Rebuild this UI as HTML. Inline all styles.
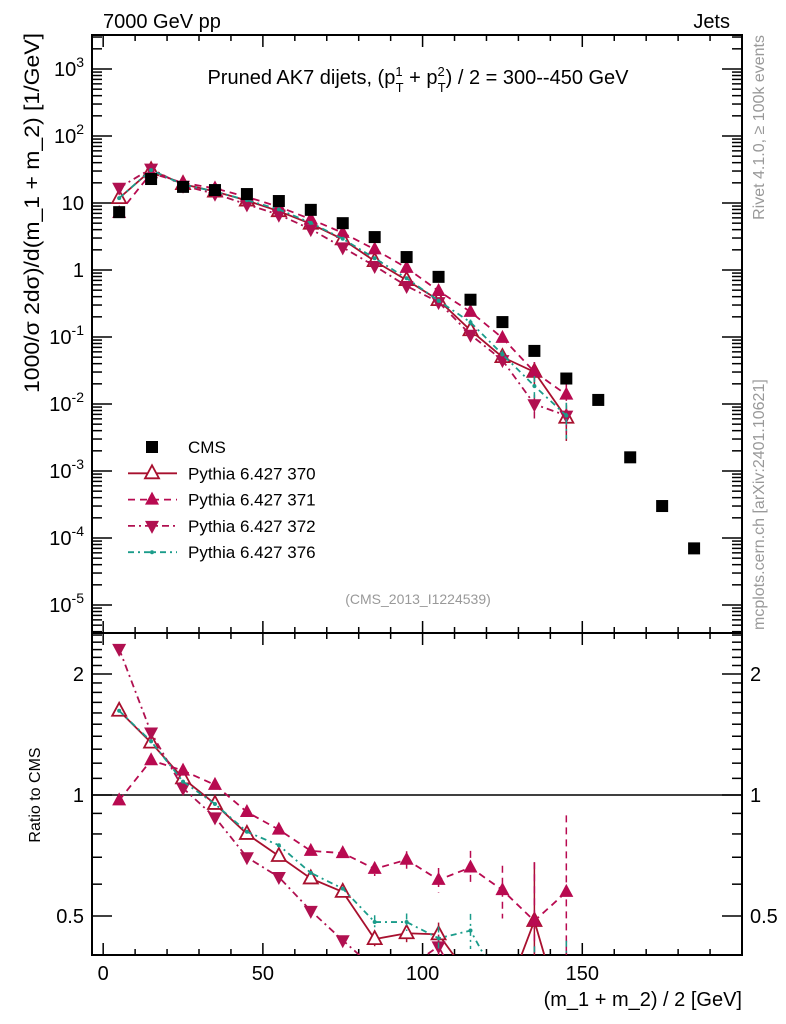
<!DOCTYPE html>
<html><head><meta charset="utf-8"><style>
html,body{margin:0;background:#fff;overflow:hidden;width:786px;height:1024px}
svg{display:block;font-family:"Liberation Sans",sans-serif}
</style></head><body>
<svg id="c" width="786" height="1024" viewBox="0 0 786 1024" xmlns="http://www.w3.org/2000/svg">
<text x="103" y="28" font-size="20">7000 GeV pp</text>
<text x="730" y="28" font-size="20" text-anchor="end">Jets</text>
<text x="418" y="84" font-size="20" text-anchor="middle">Pruned AK7 dijets, (p<tspan font-size="13" dy="-8">1</tspan><tspan font-size="13" dx="-7" dy="16">T</tspan><tspan dy="-8"> + p</tspan><tspan font-size="13" dy="-8">2</tspan><tspan font-size="13" dx="-7" dy="16">T</tspan><tspan dy="-8">) / 2 = 300--450 GeV</tspan></text>
<text x="418" y="604" font-size="14" fill="#999" text-anchor="middle">(CMS_2013_I1224539)</text>
<text transform="translate(764,35) rotate(-90)" font-size="16" fill="#999" text-anchor="end">Rivet 4.1.0, ≥ 100k events</text>
<text transform="translate(764,630) rotate(-90)" font-size="16" fill="#999" text-anchor="start">mcplots.cern.ch [arXiv:2401.10621]</text>
<text transform="translate(39,393) rotate(-90)" font-size="21" textLength="360" lengthAdjust="spacingAndGlyphs">1000/σ  2dσ)/d(m_1 + m_2) [1/GeV]</text>
<text transform="translate(40,795) rotate(-90)" font-size="16" text-anchor="middle">Ratio to CMS</text>
<text x="742" y="1006" font-size="20" text-anchor="end">(m_1 + m_2) / 2 [GeV]</text>
<g id="g"></g>
</svg>
<script>
const xs=[5,15,25,35,45,55,65,75,85,95,105,115,125,135,145,155,165,175,185];
const cms=[7.3,22.8,17.4,15.6,13.6,10.7,7.9,5.0,3.1,1.56,0.79,0.36,0.167,0.062,0.024,0.0115,0.0016,0.0003,0.00007];
const r370=[1.62,1.35,1.10,0.95,0.80,0.705,0.62,0.574,0.438,0.453,0.45,0.35,0.30,0.486,0.26];
const r371=[0.97,1.22,1.15,1.06,0.907,0.82,0.726,0.717,0.655,0.69,0.615,0.66,0.58,0.486,0.574];
const r372=[2.31,1.43,1.04,0.88,0.70,0.625,0.515,0.435,0.37,0.37,0.42,0.30,0.27,0.16,0.28];
const r376=[1.62,1.36,1.08,0.95,0.81,0.75,0.64,0.585,0.483,0.483,0.44,0.46,0.33,0.30,0.28];
const relErr=[0.01,0.01,0.01,0.01,0.01,0.02,0.02,0.02,0.04,0.05,0.07,0.1,0.15,0.4,0.55];
const mainTicks=[3,2,1,0,-1,-2,-3,-4,-5];
const xTicks=[0,50,100,150];
const ratioTicks=[0.5,1,2];

const L=92,R=742,T=35,M=633,B=955;
const X=v=>L+(v+3.5)*(R-L)/203.5;
const Y=v=>270-67*Math.log10(v);
const RY=v=>795-121*Math.log2(v);
const NS='http://www.w3.org/2000/svg';
const g=document.getElementById('g');
function mk(t,a,p){const e=document.createElementNS(NS,t);for(const k in a)e.setAttribute(k,a[k]);(p||g).appendChild(e);return e;}
const clipM=mk('clipPath',{id:'cm'});mk('rect',{x:L,y:T,width:R-L,height:M-T},clipM);
const clipR=mk('clipPath',{id:'cr'});mk('rect',{x:L,y:M,width:R-L,height:B-M},clipR);
let f1=mk('rect',{x:L,y:T,width:R-L,height:M-T,fill:'none',stroke:'#000','stroke-width':2});

let f2=mk('rect',{x:L,y:M,width:R-L,height:B-M,fill:'none',stroke:'#000','stroke-width':2});

for(let v=0;v<=200;v+=10){const maj=v%50==0;const l=maj?12:6;
 for(const [y0,d] of [[T,1],[M,-1],[M,1],[B,-1]]) mk('line',{x1:X(v),x2:X(v),y1:y0,y2:y0+d*l,stroke:'#000','stroke-width':1.5});}
xTicks.forEach(v=>{const t=mk('text',{x:X(v),y:980,'font-size':20,'text-anchor':'middle'});t.textContent=v;
 });
for(let d=-6;d<=3;d++){for(let k=1;k<10;k++){const v=k*Math.pow(10,d);const y=Y(v);if(y<T||y>M)continue;const l=k==1?20:10;
 mk('line',{x1:L,x2:L+l,y1:y,y2:y,stroke:'#000','stroke-width':1.5});mk('line',{x1:R,x2:R-l,y1:y,y2:y,stroke:'#000','stroke-width':1.5});}}
mainTicks.forEach(d=>{const t=mk('text',{x:84,y:Y(Math.pow(10,d))+7,'font-size':20,'text-anchor':'end'});
 if(d==0)t.textContent='1';else if(d==1)t.textContent='10';else{t.textContent='10';const s=mk('tspan',{dy:-9,'font-size':14},t);s.textContent=d;}
 });
[0.4,0.5,0.6,0.7,0.8,0.9,1,1.1,1.2,1.3,1.4,1.5,1.6,1.7,1.8,1.9,2,2.1,2.2,2.3,2.4,2.5].forEach(v=>{const y=RY(v);if(y<M||y>B)return;const l=ratioTicks.includes(v)?20:10;
 mk('line',{x1:L,x2:L+l,y1:y,y2:y,stroke:'#000','stroke-width':1.5});mk('line',{x1:R,x2:R-l,y1:y,y2:y,stroke:'#000','stroke-width':1.5});});
ratioTicks.forEach(v=>{for(const [x,a] of [[84,'end'],[750,'start']]){const t=mk('text',{x:x,y:RY(v)+7,'font-size':20,'text-anchor':a});t.textContent=v;
 }});
mk('line',{x1:L,x2:R,y1:RY(1),y2:RY(1),stroke:'#000','stroke-width':1.5});
function marker(type,x,y,col,p){
 if(type=='sq')return mk('rect',{x:x-6,y:y-6,width:12,height:12,fill:'#000'},p);
 if(type=='up')return mk('polygon',{points:`${x},${y-8} ${x-7},${y+5} ${x+7},${y+5}`,fill:col},p);
 if(type=='upo')return mk('polygon',{points:`${x},${y-8} ${x-7},${y+5} ${x+7},${y+5}`,fill:'#fff',stroke:col,'stroke-width':1.8},p);
 if(type=='dn')return mk('polygon',{points:`${x},${y+8} ${x-7},${y-5} ${x+7},${y-5}`,fill:col},p);
 return mk('circle',{cx:x,cy:y,r:2,fill:col},p);}
const series=[
 {r:r370,col:'#a8102e',dash:'',m:'upo',name:'series-370'},
 {r:r371,col:'#b80a50',dash:'7,5',m:'up',name:'series-371'},
 {r:r372,col:'#b01050',dash:'7,4,2,4',m:'dn',name:'series-372'},
 {r:r376,col:'#1a9c8a',dash:'6,4,2,4',m:'dot',name:'series-376'}];
series.forEach(s=>{
 const gm=mk('g',{'clip-path':'url(#cm)'});
 const gr=mk('g',{'clip-path':'url(#cr)'});
 const vals=s.r.map((r,i)=>r*cms[i]);
 mk('polyline',{points:vals.map((v,i)=>X(xs[i])+','+Y(v)).join(' '),fill:'none',stroke:s.col,'stroke-width':1.8,'stroke-dasharray':s.dash},gm);
 mk('polyline',{points:s.r.map((v,i)=>X(xs[i])+','+RY(v)).join(' '),fill:'none',stroke:s.col,'stroke-width':1.8,'stroke-dasharray':s.dash},gr);
 s.r.forEach((r,i)=>{const e=relErr[i];const x=X(xs[i]);
  if(e>0.03){const v=vals[i];
   mk('line',{x1:x,x2:x,y1:Y(v*(1+e)),y2:Y(Math.max(v*(1-e),1e-9)),stroke:s.col,'stroke-width':1.5,'stroke-dasharray':s.dash},gm);
   mk('line',{x1:x,x2:x,y1:RY(r*(1+e)),y2:RY(Math.max(r*(1-e),0.01)),stroke:s.col,'stroke-width':1.5,'stroke-dasharray':s.dash},gr);}
  marker(s.m,x,Y(vals[i]),s.col,gm);marker(s.m,x,RY(r),s.col,gr);});
});
const gc=mk('g',{'clip-path':'url(#cm)'});
cms.forEach((v,i)=>marker('sq',X(xs[i]),Y(v),'#000',gc));
const leg=[['CMS','sq','#000',''],['Pythia 6.427 370','upo','#a8102e',''],['Pythia 6.427 371','up','#b80a50','7,5'],['Pythia 6.427 372','dn','#b01050','7,4,2,4'],['Pythia 6.427 376','dot','#1a9c8a','6,4,2,4']];
leg.forEach((l,i)=>{const y=447+i*26.3;const lg=mk('g',{});
 
 if(i>0)mk('line',{x1:128,x2:177,y1:y,y2:y,stroke:l[2],'stroke-width':1.8,'stroke-dasharray':l[3]},lg);
 marker(l[1],152,y,l[2],lg);
 const t=mk('text',{x:188,y:y+6,'font-size':17},lg);t.textContent=l[0];});
</script>
</body></html>
